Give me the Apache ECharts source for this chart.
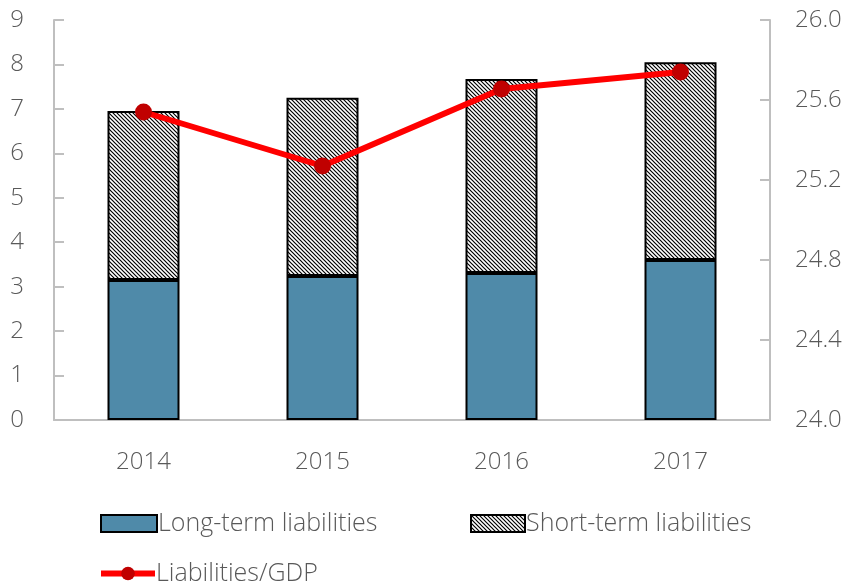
<!DOCTYPE html>
<html>
<head>
    <meta charset="utf-8" />
    <title>Liabilities</title>
    <script src="https://cdn.jsdelivr.net/npm/echarts@6/dist/echarts.min.js"></script>
    <style>
        body { margin: 0; background: #fff; }
    </style>
</head>
<body>
<div id="main" style="width: 856px;height:584px;"></div>

<script type="text/javascript">
    // data
    var years = ['2014', '2015', '2016', '2017'];
    var longTerm = [3.15, 3.24, 3.31, 3.6];
    var shortTerm = [3.8, 4.01, 4.36, 4.45];
    var ratioGdp = [25.54, 25.27, 25.655, 25.74];

    // hatch pattern for short-term bars
    function makeHatch() {
        var c = document.createElement('canvas');
        c.width = 4; c.height = 4;
        var ctx = c.getContext('2d');
        ctx.fillStyle = '#fff';
        ctx.fillRect(0, 0, 4, 4);
        ctx.strokeStyle = '#000';
        ctx.lineWidth = 1.2;
        ctx.beginPath();
        ctx.moveTo(-1, -1); ctx.lineTo(5, 5);
        ctx.moveTo(-1, 3); ctx.lineTo(1, 5);
        ctx.moveTo(3, -1); ctx.lineTo(5, 1);
        ctx.stroke();
        return c;
    }

    var grey = '#bfbfbf';
    var txt = '#595959';
    var font = 'Open Sans';
    var fs = 24;
    var legendText = { color: txt, fontSize: 25, fontWeight: 300, fontFamily: font, padding: [0, 0, 0, -4] };

    var myChart = echarts.init(document.getElementById('main'));
    var option = {
        animation: false,
        grid: { left: 54, right: 86, top: 20, bottom: 164 },
        legend: [
            {
                left: 95, top: 506, icon: 'rect',
                itemWidth: 56, itemHeight: 17,
                textStyle: legendText,
                data: ['Long-term liabilities']
            },
            {
                left: 465, top: 506, icon: 'rect',
                itemWidth: 54, itemHeight: 17,
                textStyle: legendText,
                data: ['Short-term liabilities']
            },
            {
                left: 93, top: 556,
                itemWidth: 54, itemHeight: 17,
                lineStyle: { width: 6, color: '#ff0000' },
                textStyle: legendText,
                data: ['Liabilities/GDP']
            }
        ],
        xAxis: {
            type: 'category',
            data: years,
            axisLine: { lineStyle: { color: grey, width: 2 } },
            axisTick: { show: false },
            axisLabel: { color: txt, fontSize: fs, fontWeight: 300, fontFamily: font, margin: 30 }
        },
        yAxis: [
            {
                type: 'value', min: 0, max: 9, interval: 1,
                axisLine: { show: true, lineStyle: { color: grey, width: 2 } },
                axisTick: { show: true, inside: true, length: 10, lineStyle: { color: grey, width: 2 } },
                splitLine: { show: false },
                axisLabel: { color: txt, fontSize: fs, fontWeight: 300, fontFamily: font, margin: 30 }
            },
            {
                type: 'value', min: 24, max: 26, interval: 0.4,
                axisLine: { show: true, lineStyle: { color: grey, width: 2 } },
                axisTick: { show: true, inside: true, length: 10, lineStyle: { color: grey, width: 2 } },
                splitLine: { show: false },
                axisLabel: {
                    color: txt, fontSize: fs, fontWeight: 300, fontFamily: font, margin: 25,
                    formatter: function (v) { return v.toFixed(1); }
                }
            }
        ],
        series: [
            {
                name: 'Long-term liabilities',
                type: 'bar', stack: 'total', barWidth: 72,
                itemStyle: { color: '#4f8aa9', borderColor: '#000', borderWidth: 2 },
                data: longTerm
            },
            {
                name: 'Short-term liabilities',
                type: 'bar', stack: 'total', barWidth: 72,
                itemStyle: {
                    color: { image: makeHatch(), repeat: 'repeat' },
                    borderColor: '#000', borderWidth: 2
                },
                data: shortTerm
            },
            {
                name: 'Liabilities/GDP',
                type: 'line', yAxisIndex: 1,
                symbol: 'circle', symbolSize: 17,
                lineStyle: { color: '#ff0000', width: 6 },
                itemStyle: { color: '#c00000' },
                data: ratioGdp
            }
        ]
    };
    myChart.setOption(option);
</script>
</body>
</html>
